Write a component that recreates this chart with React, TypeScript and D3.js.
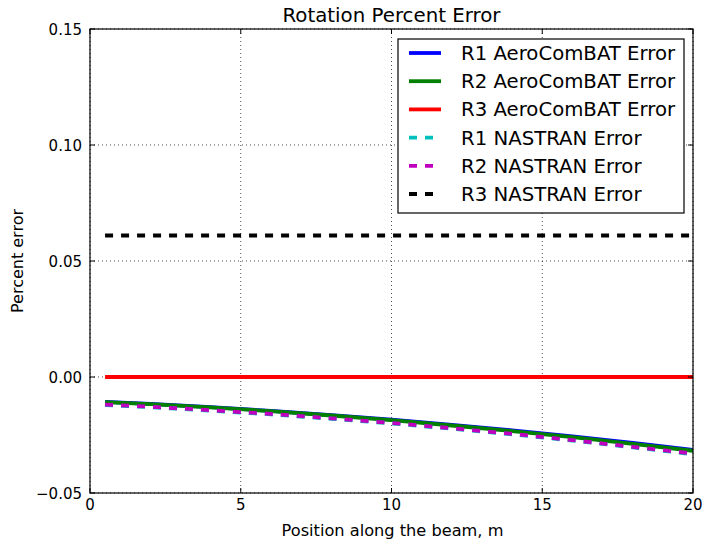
import React from "react";
import * as d3 from "d3";

const positions = [0.5, 2, 4, 6, 8, 10, 12, 14, 16, 18, 20];
const r1Aero = [-0.0107, -0.0116, -0.0130, -0.0146, -0.0164, -0.0184, -0.0206, -0.0230, -0.0256, -0.0284, -0.0314];
const r2Aero = [-0.0108, -0.0117, -0.0131, -0.0147, -0.0166, -0.0186, -0.0209, -0.0233, -0.0259, -0.0288, -0.0318];
const r3Aero = [0, 0, 0, 0, 0, 0, 0, 0, 0, 0, 0];
const r1Nas = [-0.0121, -0.0130, -0.0145, -0.0161, -0.0180, -0.0200, -0.0223, -0.0247, -0.0274, -0.0303, -0.0333];
const r2Nas = [-0.0119, -0.0128, -0.0143, -0.0159, -0.0178, -0.0198, -0.0221, -0.0245, -0.0272, -0.0301, -0.0330];
const r3Nas = [0.061, 0.061, 0.061, 0.061, 0.061, 0.061, 0.061, 0.061, 0.061, 0.061, 0.061];

const xTicks = [0, 5, 10, 15, 20];
const yTicks = [-0.05, 0, 0.05, 0.1, 0.15];

const seriesNames = [
  "R1 AeroComBAT Error",
  "R2 AeroComBAT Error",
  "R3 AeroComBAT Error",
  "R1 NASTRAN Error",
  "R2 NASTRAN Error",
  "R3 NASTRAN Error",
];
const seriesValues = [r1Aero, r2Aero, r3Aero, r1Nas, r2Nas, r3Nas];
const seriesColors = ["#0000ff", "#008000", "#ff0000", "#00bfbf", "#bf00bf", "#000000"];
const seriesDashed = [false, false, false, true, true, true];

const W = 704;
const H = 545;
const L = 90;
const R = 693;
const T = 29;
const B = 493;
const FONT = "DejaVu Sans, sans-serif";

export default function App() {
  const x = d3.scaleLinear().domain([0, 20]).range([L, R]);
  const y = d3.scaleLinear().domain([-0.05, 0.15]).range([B, T]);
  const line = d3
    .line<[number, number]>()
    .x((d) => x(d[0]))
    .y((d) => y(d[1]));

  const fmtY = (v: number) => {
    const s = Math.abs(v).toFixed(2);
    return v < 0 ? "\u2212" + s : s;
  };

  const tickLen = 5;
  const legX = 398;
  const legY = 39;
  const legW = 286;
  const legH = 174;
  const rowH = 28.2;

  return (
    <svg
      width={W}
      height={H}
      style={{ position: "absolute", left: 0, top: 0, background: "#fff" }}
      fontFamily={FONT}
    >
      <rect x={0} y={0} width={W} height={H} fill="#fff" />
      {/* grid */}
      {xTicks.map((t) => (
        <line key={"gx" + t} x1={x(t)} x2={x(t)} y1={T} y2={B} stroke="#000" strokeWidth={0.7} strokeDasharray="1,3" />
      ))}
      {yTicks.map((t) => (
        <line key={"gy" + t} x1={L} x2={R} y1={y(t)} y2={y(t)} stroke="#000" strokeWidth={0.7} strokeDasharray="1,3" />
      ))}
      {/* series */}
      <g clipPath="url(#clip)">
        {seriesValues.map((vals, i) => (
          <path
            key={"s" + i}
            d={line(positions.map((p, j) => [p, vals[j]] as [number, number])) || ""}
            fill="none"
            stroke={seriesColors[i]}
            strokeWidth={3.8}
            strokeDasharray={seriesDashed[i] ? "8,8" : undefined}
          />
        ))}
      </g>
      <defs>
        <clipPath id="clip">
          <rect x={L} y={T} width={R - L} height={B - T} />
        </clipPath>
      </defs>
      {/* ticks */}
      {xTicks.map((t) => (
        <g key={"tx" + t}>
          <line x1={x(t)} x2={x(t)} y1={B} y2={B - tickLen} stroke="#000" strokeWidth={1} />
          <line x1={x(t)} x2={x(t)} y1={T} y2={T + tickLen} stroke="#000" strokeWidth={1} />
          <text x={x(t)} y={510} textAnchor="middle" fontSize={15} fill="#000">
            {String(t)}
          </text>
        </g>
      ))}
      {yTicks.map((t) => (
        <g key={"ty" + t}>
          <line x1={L} x2={L + tickLen} y1={y(t)} y2={y(t)} stroke="#000" strokeWidth={1} />
          <line x1={R} x2={R - tickLen} y1={y(t)} y2={y(t)} stroke="#000" strokeWidth={1} />
          <text x={82} y={y(t) + 5.5} textAnchor="end" fontSize={15} fill="#000">
            {fmtY(t)}
          </text>
        </g>
      ))}
      {/* frame */}
      <rect x={L} y={T} width={R - L} height={B - T} fill="none" stroke="#000" strokeWidth={1.2} />
      {/* legend */}
      <rect x={legX} y={legY} width={legW} height={legH} fill="#fff" stroke="#000" strokeWidth={1.2} />
      {seriesNames.map((n, i) => {
        const cy = legY + 14 + i * rowH;
        return (
          <g key={"lg" + i}>
            <line
              x1={409}
              x2={441}
              y1={cy}
              y2={cy}
              stroke={seriesColors[i]}
              strokeWidth={3.8}
              strokeDasharray={seriesDashed[i] ? "8,8" : undefined}
            />
            <text x={461} y={cy + 7} fontSize={19.7} fill="#000">
              {n}
            </text>
          </g>
        );
      })}
      {/* titles */}
      <text x={(L + R) / 2} y={22} textAnchor="middle" fontSize={19.8} fill="#000">
        Rotation Percent Error
      </text>
      <text x={(L + R) / 2 + 1} y={536} textAnchor="middle" fontSize={16.2} fill="#000">
        Position along the beam, m
      </text>
      <text
        transform={`translate(23, ${(T + B) / 2}) rotate(-90)`}
        textAnchor="middle"
        fontSize={16}
        fill="#000"
      >
        Percent error
      </text>
    </svg>
  );
}
